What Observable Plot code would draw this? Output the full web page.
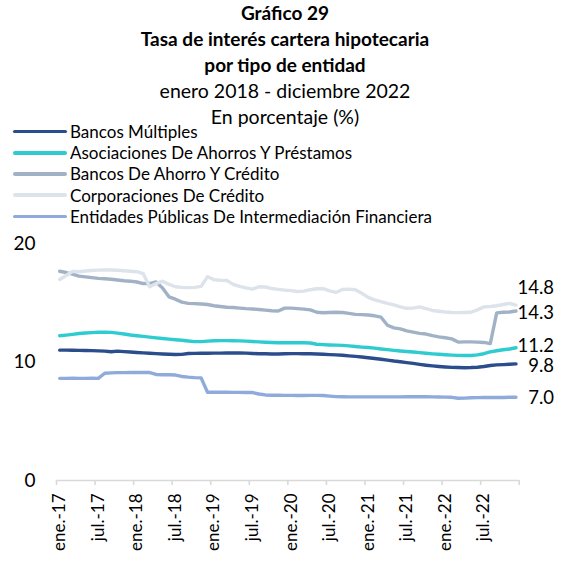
<!DOCTYPE html>
<html>
<head>
<meta charset="utf-8">
<script src="https://cdn.jsdelivr.net/npm/d3@7"></script>
<script src="https://cdn.jsdelivr.net/npm/@observablehq/plot@0.6"></script>
<style>
  html, body { margin: 0; padding: 0; background: #fff; }
  body { width: 562px; height: 564px; position: relative; overflow: hidden; font-family: Lato, "Open Sans", sans-serif; color: #000; }
  #title { position: absolute; top: 0px; left: 0; width: 570px; text-align: center; font-size: 19.5px; line-height: 26px; }
  #title .b { font-weight: bold; font-size: 19px; }
  #legend { position: absolute; top: 121px; left: 13px; font-size: 17px; }
  #legend .row { height: 21.2px; display: flex; align-items: center; white-space: nowrap; }
  #legend .sw { width: 54px; height: 3.5px; border-radius: 2px; margin-right: 3px; flex: none; }
  #chart { position: absolute; top: 225px; left: 0; }
</style>
</head>
<body>
<div id="title"></div>
<div id="legend"></div>
<div id="chart"></div>
<script>
const titleLines = ["Gráfico 29", "Tasa de interés cartera hipotecaria", "por tipo de entidad"];
const subtitleLines = ["enero 2018 - diciembre 2022", "En porcentaje (%)"];

const seriesNames = [
  "Bancos Múltiples",
  "Asociaciones De Ahorros Y Préstamos",
  "Bancos De Ahorro Y Crédito",
  "Corporaciones De Crédito",
  "Entidades Públicas De Intermediación Financiera"
];
const seriesColors = ["#2c4d8c", "#2ecbd0", "#a2b2c6", "#dde3ea", "#8eabdb"];

const tickLabels = ["ene.-17","jul.-17","ene.-18","jul.-18","ene.-19","jul.-19","ene.-20","jul.-20","ene.-21","jul.-21","ene.-22","jul.-22"];

const bancosMultiples = [
  11.00, 11.00, 10.99, 10.98, 10.97, 10.96, 10.94, 10.92, 10.86, 10.92, 10.88, 10.84,
  10.80, 10.77, 10.74, 10.71, 10.68, 10.65, 10.63, 10.64, 10.72, 10.73, 10.74, 10.74,
  10.75, 10.75, 10.76, 10.76, 10.76, 10.75, 10.72, 10.70, 10.69, 10.68, 10.68, 10.70,
  10.71, 10.71, 10.70, 10.69, 10.67, 10.65, 10.62, 10.60, 10.57, 10.52, 10.47, 10.42,
  10.36, 10.30, 10.23, 10.16, 10.08, 10.02, 9.95, 9.88, 9.80, 9.73, 9.67, 9.62,
  9.58, 9.55, 9.53, 9.52, 9.53, 9.56, 9.62, 9.70, 9.76, 9.78, 9.81, 9.84
];
const asociaciones = [
  12.22, 12.27, 12.33, 12.40, 12.45, 12.48, 12.51, 12.52, 12.50, 12.44, 12.36, 12.28,
  12.22, 12.16, 12.10, 12.04, 11.98, 11.93, 11.88, 11.83, 11.77, 11.72, 11.72, 11.76,
  11.79, 11.80, 11.80, 11.79, 11.78, 11.76, 11.73, 11.70, 11.67, 11.64, 11.62, 11.62,
  11.63, 11.63, 11.62, 11.60, 11.50, 11.47, 11.44, 11.42, 11.40, 11.36, 11.31, 11.26,
  11.22, 11.17, 11.10, 11.04, 10.98, 10.93, 10.89, 10.84, 10.79, 10.74, 10.69, 10.65,
  10.61, 10.58, 10.56, 10.55, 10.55, 10.60, 10.70, 10.85, 10.95, 11.03, 11.10, 11.20
];
const bancosAhorro = [
  17.66, 17.55, 17.42, 17.25, 17.18, 17.12, 17.06, 17.02, 16.98, 16.92, 16.86, 16.82,
  16.75, 16.62, 16.62, 16.75, 16.25, 15.50, 15.30, 15.05, 14.95, 14.93, 14.90, 14.85,
  14.75, 14.68, 14.62, 14.60, 14.55, 14.50, 14.47, 14.43, 14.38, 14.33, 14.30, 14.55,
  14.55, 14.50, 14.46, 14.40, 14.20, 14.16, 14.18, 14.20, 14.18, 14.10, 14.02, 14.00,
  13.97, 13.90, 13.78, 13.10, 12.88, 12.80, 12.62, 12.52, 12.42, 12.36, 12.22, 12.12,
  12.05, 11.95, 11.68, 11.70, 11.70, 11.68, 11.65, 11.55, 14.15, 14.20, 14.22, 14.30
];
const corporaciones = [
  16.96, 17.30, 17.65, 17.62, 17.68, 17.72, 17.75, 17.76, 17.76, 17.74, 17.70, 17.66,
  17.62, 17.45, 16.35, 16.62, 16.82, 16.55, 16.35, 16.30, 16.28, 16.30, 16.38, 17.20,
  16.95, 16.90, 16.88, 16.55, 16.38, 16.25, 16.15, 16.35, 16.33, 16.20, 16.13, 16.07,
  16.02, 15.95, 15.98, 16.10, 16.18, 16.20, 16.00, 15.87, 16.12, 16.15, 16.10, 15.80,
  15.45, 15.25, 15.10, 14.95, 14.82, 14.65, 14.53, 14.55, 14.65, 14.50, 14.35, 14.28,
  14.22, 14.18, 14.17, 14.18, 14.20, 14.40, 14.65, 14.68, 14.75, 14.85, 14.95, 14.80
];
const entidadesPublicas = [
  8.62, 8.62, 8.63, 8.62, 8.62, 8.63, 8.62, 9.05, 9.08, 9.10, 9.10, 9.11,
  9.12, 9.12, 9.11, 8.95, 8.92, 8.92, 8.90, 8.78, 8.72, 8.68, 8.66, 7.45,
  7.45, 7.45, 7.45, 7.44, 7.44, 7.43, 7.42, 7.30, 7.22, 7.20, 7.19, 7.18,
  7.18, 7.17, 7.17, 7.18, 7.18, 7.17, 7.12, 7.08, 7.07, 7.06, 7.06, 7.06,
  7.06, 7.06, 7.06, 7.06, 7.06, 7.06, 7.07, 7.07, 7.08, 7.07, 7.06, 7.05,
  7.04, 7.02, 6.94, 6.95, 6.98, 6.99, 7.00, 7.00, 7.01, 7.01, 7.02, 7.03
];

const seriesValues = [bancosMultiples, asociaciones, bancosAhorro, corporaciones, entidadesPublicas];

// title
const titleEl = document.getElementById("title");
titleLines.forEach(t => { const d = document.createElement("div"); d.className = "b"; d.textContent = t; titleEl.appendChild(d); });
subtitleLines.forEach(t => { const d = document.createElement("div"); d.textContent = t; titleEl.appendChild(d); });

// legend
const legendEl = document.getElementById("legend");
seriesNames.forEach((n, k) => {
  const row = document.createElement("div"); row.className = "row";
  const sw = document.createElement("span"); sw.className = "sw"; sw.style.background = seriesColors[k];
  const tx = document.createElement("span"); tx.textContent = n;
  row.appendChild(sw); row.appendChild(tx); legendEl.appendChild(row);
});

// data table
const rows = [];
seriesNames.forEach((n, k) => seriesValues[k].forEach((v, i) => rows.push({serie: n, i, v})));
const lastRows = seriesNames.map((n, k) => ({serie: n, i: 71, v: seriesValues[k][71]}));
const labelDy = {
  "Bancos Múltiples": 2,
  "Asociaciones De Ahorros Y Préstamos": -2,
  "Bancos De Ahorro Y Crédito": 2,
  "Corporaciones De Crédito": -17,
  "Entidades Públicas De Intermediación Financiera": 1
};

const chart = Plot.plot({
  width: 562,
  height: 339,
  marginTop: 18,
  marginBottom: 84,
  marginLeft: 56,
  marginRight: 43.3,
  style: {fontFamily: "Lato, sans-serif", color: "#000", background: "transparent", overflow: "visible"},
  x: {domain: [0, 72]},
  y: {domain: [0, 20]},
  color: {domain: seriesNames, range: seriesColors},
  marks: [
    Plot.axisY({ticks: [0, 10, 20], tickSize: 0, tickPadding: 21, fontSize: 19, label: null}),
    Plot.ruleY([0], {stroke: "#d9d9d9", strokeWidth: 1.6}),
    Plot.axisX({ticks: d3.range(0, 73, 6), tickSize: 5, stroke: "#d9d9d9", strokeWidth: 1.6, strokeOpacity: 1, tickFormat: () => "", label: null}),
    Plot.axisX({ticks: d3.range(0, 72, 6).map(d => d + 0.5), tickSize: 0, tickPadding: 13, tickRotate: -90,
      tickFormat: d => tickLabels[Math.round((d - 0.5) / 6)], fontSize: 17, label: null}),
    Plot.line(rows, {x: d => d.i + 0.5, y: "v", z: "serie", stroke: "serie", strokeWidth: 3.4, strokeLinejoin: "round", strokeLinecap: "round"}),
    ...seriesNames.map((n, k) => Plot.text([lastRows[k]], {x: d => d.i + 0.5, y: "v", text: d => d.v.toFixed(1),
      textAnchor: "end", dx: 38, dy: labelDy[n], fontSize: 18.5, fill: "#000"}))
  ]
});
document.getElementById("chart").appendChild(chart);
</script>
</body>
</html>
